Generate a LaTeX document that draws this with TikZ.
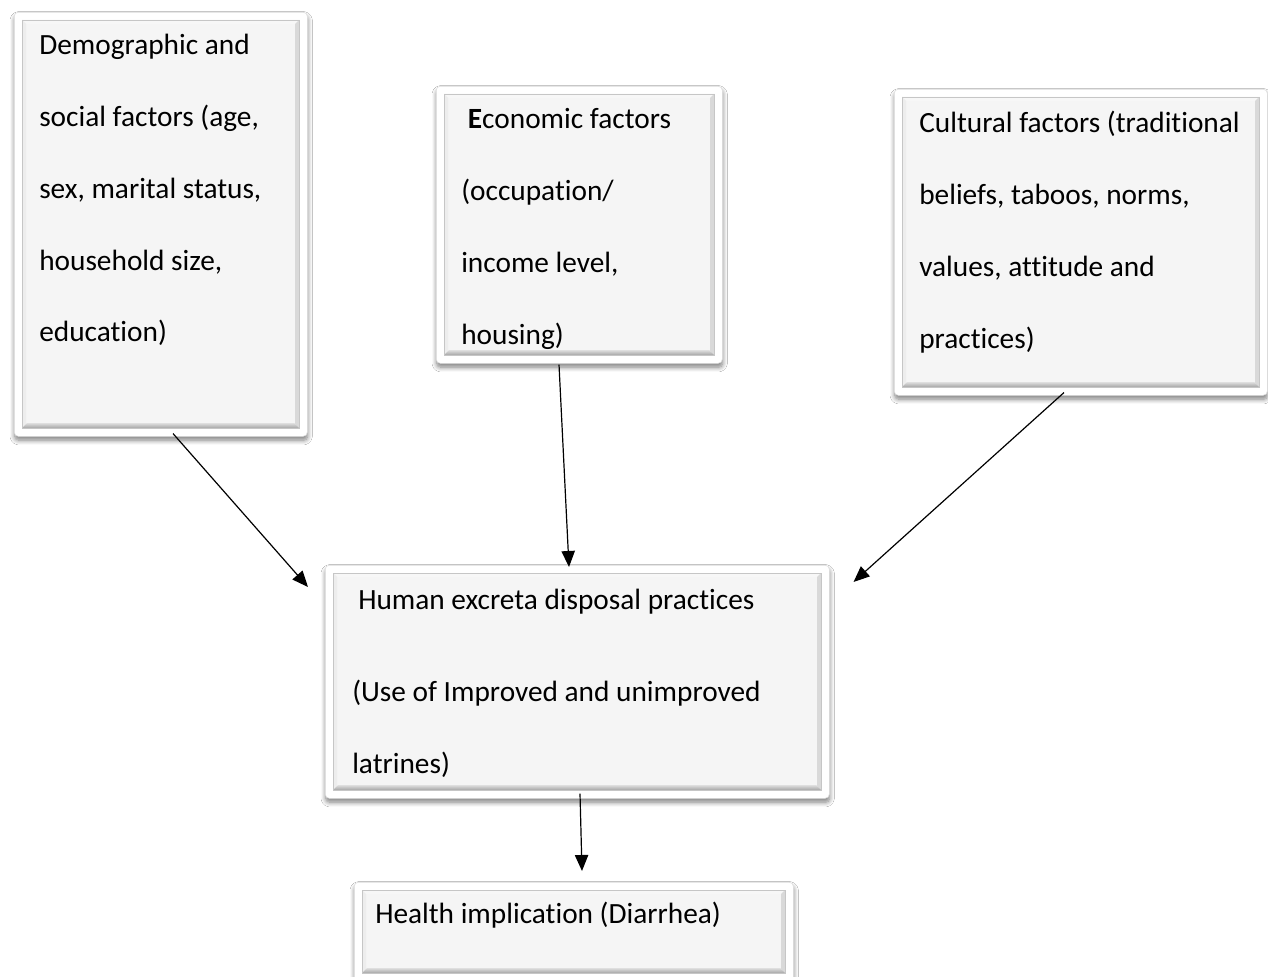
\documentclass[tikz,border=0pt]{standalone}
\usepackage{fontspec}
\setmainfont{Carlito}[Ligatures=NoCommon]
\usetikzlibrary{calc,arrows.meta,shadows.blur}
\definecolor{boxfill}{HTML}{F5F5F5}
\definecolor{frameline}{HTML}{DDDDDD}
\tikzset{
  outerbox/.style={rectangle, rounded corners=3pt, fill=white, draw=frameline, line width=0.4pt,
    blur shadow={shadow xshift=0.3pt, shadow yshift=-3pt, shadow blur steps=8, shadow opacity=50, shadow blur radius=3.5pt},
    inner sep=0pt},
  txt/.style={inner sep=0pt, font=\fontsize{22}{53.8}\selectfont},
  arr/.style={draw=black, line width=0.9pt, -{Triangle[length=12pt,width=10pt]}},
}
% name, x1, y1, x2, y2 (pixels)
\newcommand\bevelbox[5]{%
  \pgfmathsetmacro\bw{(#4-#2)*0.75}%
  \pgfmathsetmacro\bh{(#5-#3)*0.75}%
  \node[outerbox, minimum width=\bw pt, minimum height=\bh pt, anchor=north west] (#1) at (#2,#3) {};
  \fill[boxfill] (#2+8,#3+8) rectangle (#4-8,#5-8);
  % top bevel
  \fill[gray!6] (#2+8,#3+8) -- (#4-8,#3+8) -- (#4-12,#3+12) -- (#2+12,#3+12) -- cycle;
  % left bevel
  \fill[gray!14] (#2+8,#3+8) -- (#2+12,#3+12) -- (#2+12,#5-12) -- (#2+8,#5-8) -- cycle;
  % right bevel
  \fill[gray!30] (#4-8,#3+8) -- (#4-8,#5-8) -- (#4-12,#5-12) -- (#4-12,#3+12) -- cycle;
  % bottom bevel
  \shade[top color=gray!25, bottom color=gray!70] (#2+8,#5-8) -- (#4-8,#5-8) -- (#4-13,#5-13) -- (#2+13,#5-13) -- cycle;
  \draw[gray!45, line width=0.4pt] (#2+8,#3+8) rectangle (#4-8,#5-8);
}
\begin{document}
\begin{tikzpicture}[x=0.75pt,y=-0.75pt]
\useasboundingbox (0,0) rectangle (1268,977);
\fill[white] (0,0) rectangle (1268,977);

\bevelbox{demo}{14}{12}{307}{436}
\bevelbox{econ}{436}{86}{722}{363}
\bevelbox{cult}{894}{89}{1267}{395}
\bevelbox{hum}{325}{565}{829}{798}
\bevelbox{hea}{354}{882}{793}{981}

\node[txt, anchor=base west] (t1) at (39,55) {\parbox[t]{300pt}{\raggedright
Demographic and\\
social factors (age,\\
sex, marital status,\\
household size,\\
education)}};

\node[txt, anchor=base west] (t2) at (461,129) {\parbox[t]{300pt}{\raggedright
\hspace*{5pt}\textbf{E}conomic factors\\
(occupation/\\
income level,\\
housing)}};

\node[txt, anchor=base west] (t3) at (919,133) {\parbox[t]{300pt}{\raggedright
Cultural factors (traditional\\
beliefs, taboos, norms,\\
values, attitude and\\
practices)}};

\node[txt, anchor=base west] (t4) at (352,609) {\parbox[t]{400pt}{\raggedright
\hspace*{4.5pt}Human excreta disposal practices\\[15.5pt]
(Use of Improved and unimproved\\
latrines)}};

\node[txt, anchor=base west] (t5) at (375,923) {Health implication (Diarrhea)};

\draw[arr] ($(demo.south west)+(159,-3)$) -- ($(hum.north west)+(-17,22)$);
\draw[arr] ($(econ.south west)+(123,1)$) -- ($(hum.north west)+(244,2)$);
\draw[arr] ($(cult.south west)+(170,-3)$) -- ($(hum.north east)+(24,17)$);
\draw[arr] ($(hum.south west)+(255,-5)$) -- ($(hea.north west)+(228,-11)$);
\end{tikzpicture}
\end{document}
